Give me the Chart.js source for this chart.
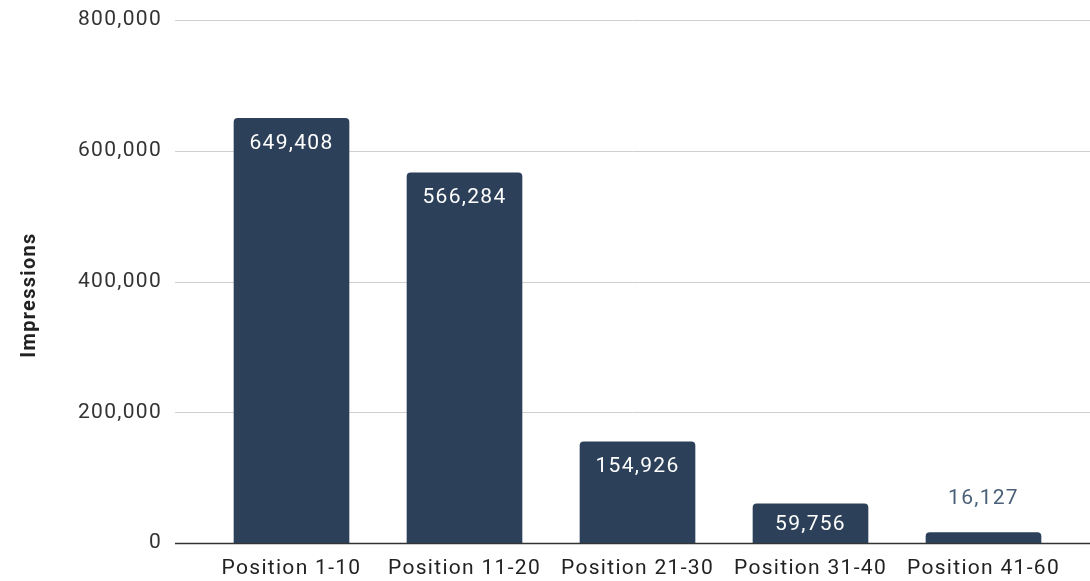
<!DOCTYPE html>
<html>
<head>
<meta charset="utf-8">
<script src="https://cdn.jsdelivr.net/npm/chart.js@4/dist/chart.umd.min.js"></script>
<style>
  html, body { margin: 0; padding: 0; background: #fff; }
  #wrap { width: 1090px; height: 581px; position: relative; }
</style>
</head>
<body>
<div id="wrap"><canvas id="impChart"></canvas></div>
<script>
// Impressions by ranking position
const categories = ['Position 1-10', 'Position 11-20', 'Position 21-30', 'Position 31-40', 'Position 41-60'];
const impressions = [649408, 566284, 154926, 59756, 16127];
const yTicks = [0, 200000, 400000, 600000, 800000];
const yTitle = 'Impressions';

const BAR_COLOR = '#2c4159';
const FONT = "Roboto, 'Liberation Sans', sans-serif";
const SPACING = '1.3px';
const fmt = v => v.toLocaleString('en-US');

Chart.defaults.font.family = FONT;
Chart.defaults.color = '#333';

// wider letter spacing for every text the chart draws
const spacingPlugin = {
    id: 'spacing',
    beforeDraw(chart) { chart.ctx.letterSpacing = SPACING; }
};

// horizontal grid lines, running a bit past the plot area on the left
const gridPlugin = {
    id: 'wideGrid',
    beforeDatasetsDraw(chart) {
        const { ctx, scales: { y } } = chart;
        ctx.save();
        yTicks.forEach(t => {
            const py = Math.round(y.getPixelForValue(t)) + 0.5;
            ctx.beginPath();
            ctx.strokeStyle = t === 0 ? '#333' : '#cfcfcf';
            ctx.lineWidth = t === 0 ? 1.5 : 1;
            ctx.moveTo(175, py);
            ctx.lineTo(chart.width, py);
            ctx.stroke();
        });
        ctx.restore();
    }
};

// rotated axis title, centred a little below the plot middle
const titlePlugin = {
    id: 'yTitle',
    afterDraw(chart) {
        const { ctx } = chart;
        ctx.save();
        ctx.translate(30, 295);
        ctx.rotate(-Math.PI / 2);
        ctx.font = 'bold 20px ' + FONT;
        ctx.letterSpacing = SPACING;
        ctx.fillStyle = '#222';
        ctx.textAlign = 'center';
        ctx.textBaseline = 'middle';
        ctx.fillText(yTitle, 0, 0);
        ctx.restore();
    }
};

// value labels: inside the bar top when it fits, otherwise above it
const valuePlugin = {
    id: 'valueLabels',
    afterDatasetsDraw(chart) {
        const { ctx } = chart;
        const meta = chart.getDatasetMeta(0);
        ctx.save();
        ctx.font = '21px ' + FONT;
        ctx.letterSpacing = SPACING;
        ctx.textAlign = 'center';
        ctx.textBaseline = 'middle';
        meta.data.forEach((bar, i) => {
            const h = bar.base - bar.y;
            if (h > 35) {
                ctx.fillStyle = '#ffffff';
                ctx.fillText(fmt(impressions[i]), bar.x, Math.min(bar.y + 25, bar.base - 18));
            } else {
                ctx.fillStyle = '#4a6079';
                ctx.fillText(fmt(impressions[i]), bar.x, bar.y - 34);
            }
        });
        ctx.restore();
    }
};

new Chart(document.getElementById('impChart'), {
    type: 'bar',
    data: {
        labels: categories,
        datasets: [{
            label: yTitle,
            data: impressions,
            backgroundColor: BAR_COLOR,
            barThickness: 115,
            borderRadius: { topLeft: 4, topRight: 4 },
            borderSkipped: 'bottom'
        }]
    },
    options: {
        responsive: true,
        maintainAspectRatio: false,
        animation: false,
        layout: { padding: { top: 20, right: 20, left: 0, bottom: 0 } },
        plugins: {
            legend: { display: false },
            tooltip: { enabled: false }
        },
        scales: {
            y: {
                min: 0,
                max: 800000,
                afterFit(scale) {
                    scale.width = 205;
                    // tick padding would otherwise push the plot area in
                    scale.paddingTop = 0;
                    scale.paddingBottom = 0;
                },
                afterBuildTicks(scale) { scale.ticks = yTicks.map(v => ({ value: v })); },
                grid: { display: false, drawTicks: false },
                border: { display: false },
                ticks: {
                    padding: 43,
                    color: '#333',
                    font: { size: 21 },
                    callback: v => fmt(v)
                }
            },
            x: {
                afterFit(scale) { scale.height = 38; },
                grid: { display: false, drawTicks: false },
                border: { display: false },
                ticks: {
                    padding: 13,
                    color: '#222',
                    font: { size: 21 },
                    maxRotation: 0
                }
            }
        }
    },
    plugins: [spacingPlugin, gridPlugin, valuePlugin, titlePlugin]
});
</script>
</body>
</html>
